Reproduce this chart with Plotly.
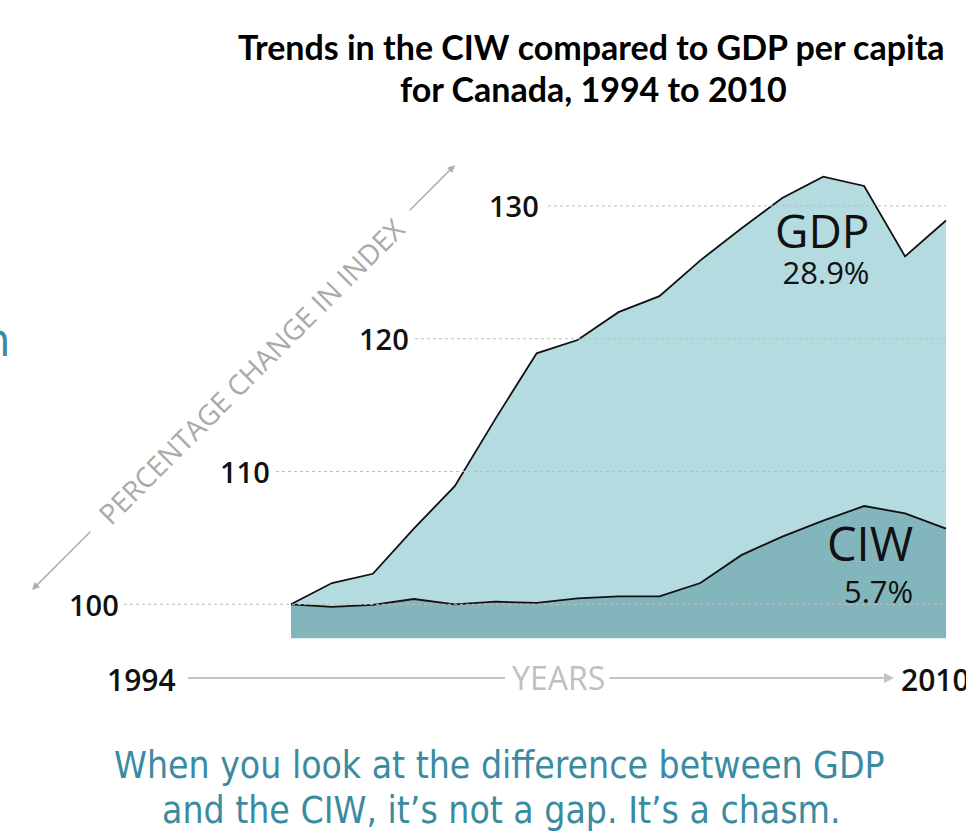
import plotly.graph_objects as go

# ---------------- data ----------------
years = list(range(1994, 2011))
gdp = [100.0, 101.6, 102.3, 105.7, 108.9, 114.0, 118.9, 119.9, 122.0, 123.2,
       125.9, 128.3, 130.6, 132.2, 131.5, 126.2, 128.9]
ciw = [100.0, 99.8, 99.95, 100.4, 100.0, 100.2, 100.1, 100.45, 100.6, 100.6,
       101.6, 103.7, 105.1, 106.3, 107.4, 106.85, 105.7]
tick_values = [100, 110, 120, 130]
tick_labels = ["100", "110", "120", "130"]
gdp_label, gdp_change = "GDP", "28.9%"
ciw_label, ciw_change = "CIW", "5.7%"

# ---------------- layout constants ----------------
W, H = 966, 837
X0_PX, X1_PX = 291, 946          # pixel of first / last year
Y100_PX, PX_PER_UNIT = 604.3, 13.28
BASE = 97.45                      # bottom of filled area

px_per_year = (X1_PX - X0_PX) / (years[-1] - years[0])
x_range = [years[0] - X0_PX / px_per_year, years[0] + (W - X0_PX) / px_per_year]
y_range = [100 - (H - Y100_PX) / PX_PER_UNIT, 100 + Y100_PX / PX_PER_UNIT]


def px(xp):
    return xp / W


def py(yp):
    return 1 - yp / H


LIGHT = "#b3dbe0"
DARK = "#82b6bc"
TEAL = "#3a8ba1"
GRID = "#bdbdbd"
AXGRAY = "#c4c4c4"
NARROW = "Liberation Sans Narrow, DejaVu Sans Condensed, sans-serif"

fig = go.Figure()
fig.add_trace(go.Scatter(x=years, y=[BASE] * len(years), mode="lines",
                         line=dict(width=0, color=DARK), hoverinfo="skip",
                         showlegend=False))
fig.add_trace(go.Scatter(x=years, y=ciw, mode="lines", fill="tonexty",
                         fillcolor=DARK, line=dict(color="#111111", width=1.8),
                         name="CIW", showlegend=False))
fig.add_trace(go.Scatter(x=years, y=gdp, mode="lines", fill="tonexty",
                         fillcolor=LIGHT, line=dict(color="#111111", width=1.8),
                         name="GDP", showlegend=False))

shapes = []
annotations = []


def text(x, y, s, size, color="#111111", family="Open Sans", weight=None,
         xanchor="center", xref="paper", yref="paper", angle=None, align="center"):
    f = dict(family=family, size=size, color=color)
    if weight:
        f["weight"] = weight
    d = dict(xref=xref, yref=yref, x=x, y=y, text=s, showarrow=False,
             xanchor=xanchor, yanchor="middle", font=f, align=align)
    if angle is not None:
        d["textangle"] = angle
    return d


# staggered gridlines and labels
grid_start_px = [124, 276, 415, 548]
label_right_px = [121, 272, 411, 541]
for v, lab, gs, lr in zip(tick_values, tick_labels, grid_start_px, label_right_px):
    shapes.append(dict(type="line", xref="paper", yref="y", x0=px(gs), x1=px(X1_PX),
                       y0=v, y1=v, line=dict(color=GRID, width=1, dash="dot"),
                       layer="above"))
    annotations.append(text(px(lr), v, lab, 29, weight=600, xanchor="right", yref="y"))

# series labels (name + change in one block)
annotations += [
    text(px(872), py(246),
         f"<span style='font-size:46px'>{gdp_label}</span><br>"
         f"<span style='font-size:31px'>{gdp_change}</span>", 28,
         xanchor="right", align="right"),
    text(px(915), py(561),
         f"<span style='font-size:47px'>{ciw_label}</span><br>"
         f"<span style='font-size:31px'>{ciw_change}</span>", 32,
         xanchor="right", align="right"),
]

# title
annotations += [
    text(px(591), py(46), "Trends in the CIW compared to GDP per capita", 34,
         color="#000000", family="Lato", weight=700),
    text(px(593), py(88), "for Canada, 1994 to 2010", 34,
         color="#000000", family="Lato", weight=700),
]

# diagonal y-axis title with arrows
annotations.append(text(px(251), py(371), "PERCENTAGE CHANGE IN INDEX", 28,
                        color="#aaaaaa", angle=-45))
annotations.append(dict(xref="paper", yref="paper", x=px(32), y=py(590),
                        ax=92 - 32, ay=530 - 590, axref="pixel", ayref="pixel",
                        text="", showarrow=True, arrowhead=2, arrowsize=1,
                        arrowwidth=1.5, arrowcolor="#b0b0b0"))
annotations.append(dict(xref="paper", yref="paper", x=px(455), y=py(165),
                        ax=408 - 455, ay=212 - 165, axref="pixel", ayref="pixel",
                        text="", showarrow=True, arrowhead=2, arrowsize=1,
                        arrowwidth=1.5, arrowcolor="#b0b0b0"))

# years axis
annotations += [
    text(px(178), py(679), str(years[0]), 30, weight=600, xanchor="right"),
    text(px(899), py(679), str(years[-1]), 30, weight=600, xanchor="left"),
    text(px(558), py(677), "YEARS", 32, color="#c0c0c0"),
    dict(xref="paper", yref="paper", x=px(894), y=py(678), ax=608 - 894, ay=0,
         axref="pixel", ayref="pixel", text="", showarrow=True, arrowhead=2,
         arrowsize=1, arrowwidth=2, arrowcolor=AXGRAY),
]
shapes.append(dict(type="line", xref="paper", yref="paper", x0=px(188), x1=px(505),
                   y0=py(678), y1=py(678), line=dict(color=AXGRAY, width=2)))

# caption
annotations += [
    text(px(499), py(765), "When you look at the difference between GDP", 37,
         color=TEAL, family=NARROW),
    text(px(502), py(810), "and the CIW, it\u2019s not a gap. It\u2019s a chasm.", 37,
         color=TEAL, family=NARROW),
    text(px(12), py(340), "n", 46, color=TEAL, family=NARROW, xanchor="right"),
]

fig.update_layout(
    width=W, height=H, margin=dict(l=0, r=0, t=0, b=0),
    paper_bgcolor="white", plot_bgcolor="white",
    xaxis=dict(range=x_range, visible=False, fixedrange=True),
    yaxis=dict(range=y_range, visible=False, fixedrange=True),
    shapes=shapes, annotations=annotations, showlegend=False,
)

fig.write_html("out.html")
